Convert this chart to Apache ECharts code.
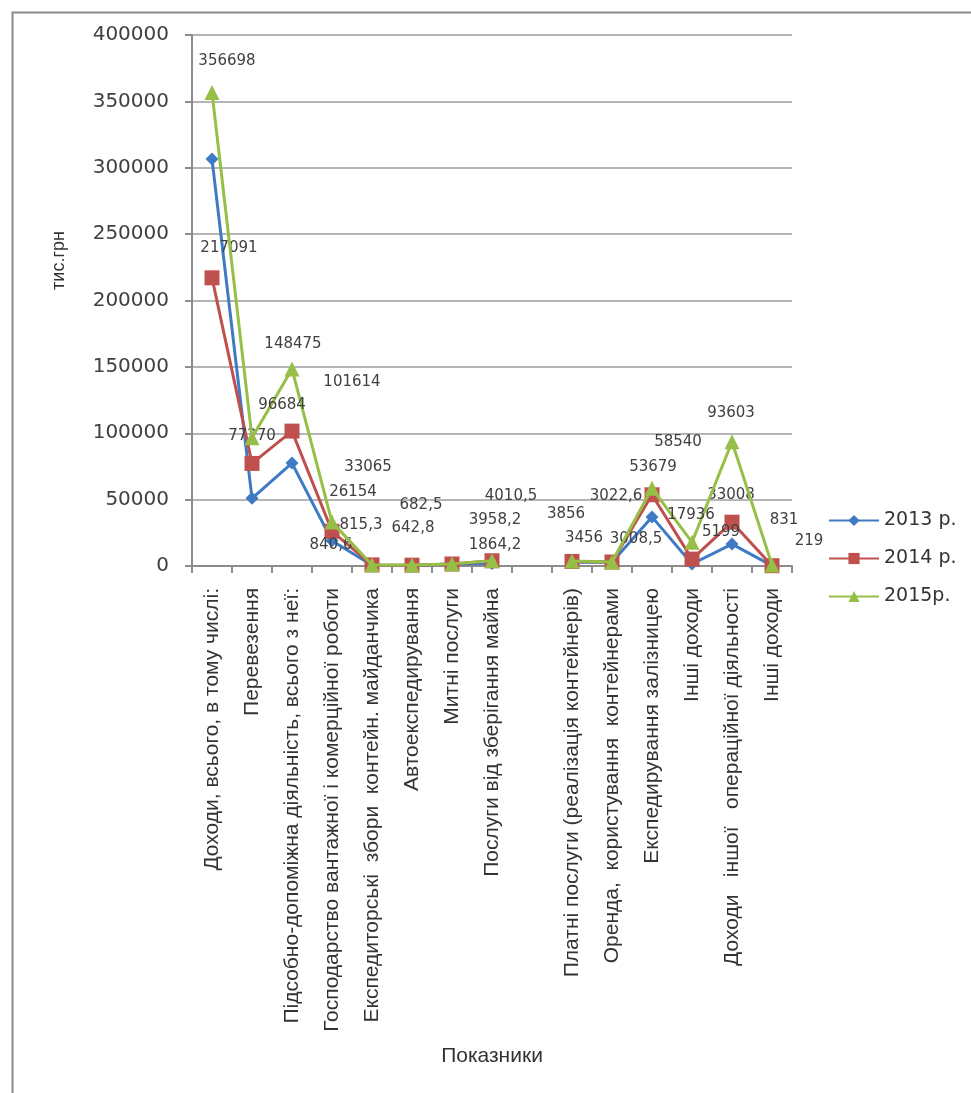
<!DOCTYPE html>
<html>
<head>
<meta charset="utf-8">
<script src="https://cdn.jsdelivr.net/npm/echarts@6/dist/echarts.min.js"></script>
<style>
  html, body { margin: 0; padding: 0; background: #fff; }
  #chart { width: 971px; height: 1093px; }
</style>
</head>
<body>
<div id="chart"></div>
<script>
// категорії (порожня позиція - розрив між групами)
const categories = [
  'Доходи, всього, в тому числі:',
  'Перевезення',
  'Підсобно-допоміжна діяльність, всього з неї:',
  'Господарство вантажної і комерційної роботи',
  'Експедиторські  збори  контейн. майданчика',
  'Автоекспедирування',
  'Митні послуги',
  'Послуги від зберігання майна',
  '',
  'Платні послуги (реалізація контейнерів)',
  'Оренда,  користування  контейнерами',
  'Експедирування залізницею',
  'Інші доходи',
  'Доходи   іншої   операційної діяльності',
  'Інші доходи'
]

const seriesNames = ['2013 р.', '2014 р.', '2015р.']

// тис.грн
const values2013 = [306500, 51000, 77500, 19000, 500, 450, 1500, 1864.2, null, 2800, 2900, 37000, 1500, 16500, 300]
const values2014 = [217091, 77270, 101614, 26154, 840.6, 642.8, 1500, 3958.2, null, 3456, 3008.5, 53679, 5199, 33008, 219]
const values2015 = [356698, 96684, 148475, 33065, 815.3, 682.5, 1600, 4010.5, null, 3856, 3022.6, 58540, 17936, 93603, 831]

const yTicks = [0, 50000, 100000, 150000, 200000, 250000, 300000, 350000, 400000]

// зсув підписів даних відносно точки (null - підпис не показується)
const labelShift2013 = [null, null, null, null, null, null, null, [3, -18], null, null, null, null, null, null, null]
const labelShift2014 = [[17, -30], [0, -27], [60, -49], [21, -39], [-41, -20], [1, -37], null, [3, -41], null, [12, -23], [24, -23], [1, -28], [29, -27], [-1, -27], [37, -25]]
const labelShift2015 = [[15, -31], [30, -33], [1, -25], [36, -55], [-11, -40], [9, -60], null, [19, -65], null, [-6, -47], [4, -66], [26, -46], [-1, -27], [-1, -29], [12, -45]]

const colors = ['#3f7ac4', '#c0504d', '#96bf47']

function buildData(values, shifts) {
  return values.map(function (v, i) {
    if (v === null) return null
    return {
      value: v,
      label: {
        show: shifts[i] !== null,
        position: 'inside',
        offset: shifts[i] || [0, 0]
      }
    }
  })
}

function fmt(p) {
  return String(p.value).replace('.', ',')
}

const chart = echarts.init(document.getElementById('chart'))

const labelStyle = {
  formatter: fmt,
  color: '#404040',
  fontSize: 15,
  fontFamily: 'DejaVu Sans'
}

const option = {
  animation: false,
  color: colors,
  graphic: [{
    type: 'rect',
    left: 10,
    top: 10,
    shape: { width: 1100, height: 1200 },
    style: { fill: 'none', stroke: '#8a8a8a', lineWidth: 2 },
    silent: true
  }],
  grid: {
    left: 192,
    right: 179,
    top: 35,
    bottom: 527
  },
  legend: {
    orient: 'vertical',
    left: 823,
    top: 506,
    itemGap: 19,
    itemWidth: 50,
    itemHeight: 14,
    textStyle: { fontSize: 19, fontFamily: 'DejaVu Sans', color: '#333' },
    data: seriesNames
  },
  xAxis: {
    type: 'category',
    data: categories,
    boundaryGap: true,
    name: 'Показники',
    nameLocation: 'middle',
    nameGap: 480,
    nameTextStyle: { fontSize: 21, fontFamily: 'Liberation Sans', color: '#333' },
    axisLine: { lineStyle: { color: '#8c8c8c', width: 2 } },
    axisTick: { show: true, length: 7, alignWithLabel: false, lineStyle: { color: '#8c8c8c', width: 2 } },
    axisLabel: {
      rotate: 90,
      interval: 0,
      margin: 22,
      fontSize: 21,
      fontFamily: 'Liberation Sans',
      color: '#333'
    },
    splitLine: { show: false }
  },
  yAxis: {
    type: 'value',
    min: 0,
    max: 400000,
    interval: 50000,
    name: 'тис.грн',
    nameLocation: 'middle',
    nameGap: 124,
    nameRotate: 90,
    nameTextStyle: { fontSize: 18, fontFamily: 'Liberation Sans', color: '#333', padding: [0, 0, 0, 80] },
    axisLine: { show: true, lineStyle: { color: '#8c8c8c', width: 2 } },
    axisTick: { show: true, length: 7, lineStyle: { color: '#8c8c8c', width: 2 } },
    axisLabel: {
      margin: 23,
      fontSize: 20,
      fontFamily: 'DejaVu Sans',
      color: '#404040',
      formatter: function (v) { return yTicks.indexOf(v) >= 0 ? String(v) : '' }
    },
    splitLine: { show: true, lineStyle: { color: '#b5b5b5', width: 2 } }
  },
  series: [
    {
      name: seriesNames[0],
      type: 'line',
      data: buildData(values2013, labelShift2013),
      symbol: 'diamond',
      symbolSize: 13,
      connectNulls: false,
      lineStyle: { width: 3 },
      label: labelStyle,
      z: 3
    },
    {
      name: seriesNames[1],
      type: 'line',
      data: buildData(values2014, labelShift2014),
      symbol: 'rect',
      symbolSize: 15,
      connectNulls: false,
      lineStyle: { width: 3 },
      label: labelStyle,
      z: 4
    },
    {
      name: seriesNames[2],
      type: 'line',
      data: buildData(values2015, labelShift2015),
      symbol: 'triangle',
      symbolSize: 15,
      connectNulls: false,
      lineStyle: { width: 3 },
      label: labelStyle,
      z: 5
    }
  ]
}

chart.setOption(option)
window.addEventListener('resize', function () {
  chart.resize()
})
</script>
</body>
</html>
